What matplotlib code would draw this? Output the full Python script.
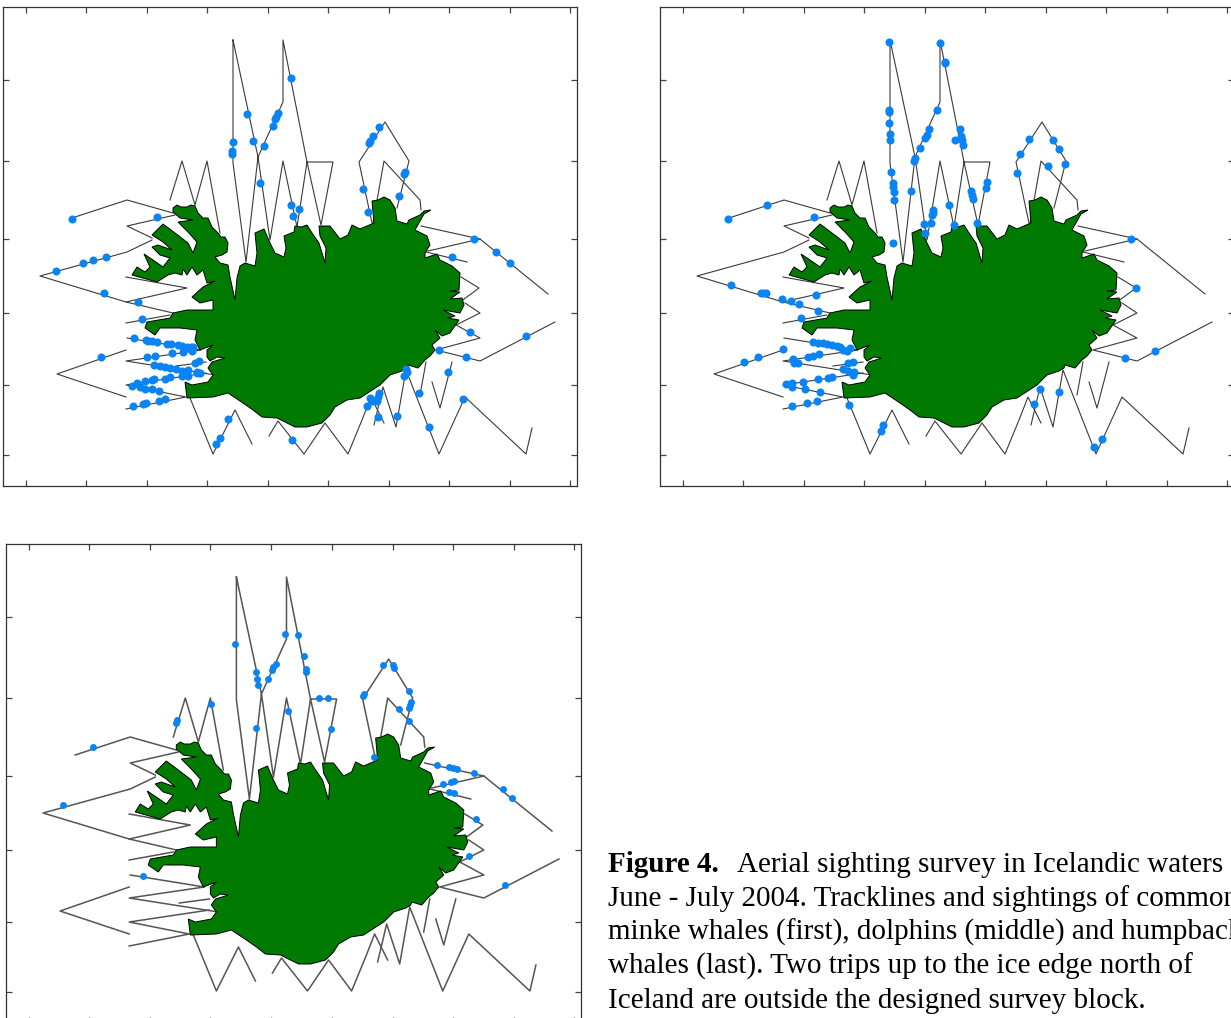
# Aerial survey maps: tracklines and sightings around Iceland
import matplotlib
matplotlib.use("Agg")
import matplotlib.pyplot as plt

# =========================================================
# DATA (map units, shared by all three panels)
# =========================================================
X_TICKS = [26, 86, 147, 207, 268, 328, 389, 449, 510, 570]
Y_TICKS = [80, 161, 239, 313, 385, 455]

ICELAND = [
    (173, 208), (177, 205), (181, 207), (187, 207), (191, 205), (195, 206), (198, 213), (203, 218),
    (208, 218), (212, 227), (218, 233), (221, 237), (225, 237), (228, 243), (227, 252), (222, 255),
    (215, 257), (220, 263), (228, 265), (230, 277), (235, 300), (237, 278), (240, 266), (245, 263),
    (255, 266), (257, 253), (255, 233), (264, 229), (270, 243), (275, 253), (284, 257),
    (286, 248), (284, 236), (294, 232), (295, 226), (301, 227), (307, 225), (312, 233), (319, 243),
    (325, 263), (326, 248), (320, 236), (319, 226), (330, 226), (340, 239), (348, 235),
    (352, 225), (360, 229), (374, 223), (372, 201), (378, 200), (384, 197), (390, 200), (395, 208),
    (397, 221), (407, 224), (409, 220), (420, 215), (424, 211), (431, 210), (424, 214),
    (415, 230), (427, 236), (430, 245), (425, 253), (425, 258), (437, 254), (440, 260),
    (452, 266), (460, 273), (459, 290), (450, 291), (460, 292), (450, 299), (462, 298),
    (464, 305), (460, 313), (443, 310), (455, 316), (448, 318), (459, 320), (450, 333),
    (442, 336), (435, 330), (440, 338), (432, 345), (435, 350), (430, 356), (425, 360),
    (418, 368), (408, 365), (407, 368), (402, 371), (390, 375), (380, 385), (360, 398),
    (347, 400), (335, 407), (330, 415), (322, 423), (307, 427), (295, 427), (277, 418),
    (262, 417), (253, 410), (243, 403), (228, 393), (213, 397), (187, 398), (185, 382),
    (192, 385), (208, 382), (213, 375), (208, 368), (212, 362), (225, 358), (217, 357),
    (210, 361), (207, 357), (207, 350), (213, 345), (200, 350), (195, 340), (197, 330),
    (180, 328), (160, 328), (155, 335), (145, 328), (147, 322), (170, 318), (173, 313),
    (187, 310), (213, 310), (213, 300), (200, 303), (192, 297), (203, 287), (215, 281),
    (207, 283), (203, 270), (197, 275), (192, 267), (187, 275), (183, 269), (182, 275),
    (175, 273), (168, 275), (157, 282),
    (132, 275), (137, 267), (145, 272), (150, 267), (144, 254), (153, 260), (163, 267),
    (170, 258), (160, 255), (152, 247), (158, 245), (172, 250), (163, 242), (152, 235),
    (163, 224), (175, 233), (188, 243), (193, 253), (197, 242), (188, 232), (178, 222),
    (193, 220), (180, 218), (173, 212),
]

TRACKS = [
    [(72, 218), (127, 200), (173, 213)],
    [(175, 215), (127, 226), (152, 238)],
    [(152, 240), (127, 252), (40, 276), (126, 302), (173, 313)],
    [(126, 277), (187, 288), (126, 302)],
    [(126, 323), (170, 315)],
    [(127, 338), (201, 350), (126, 361), (215, 375)],
    [(176, 366), (206, 362)],
    [(206, 373), (126, 385), (186, 397), (126, 409)],
    [(126, 350), (57, 374), (126, 397)],
    [(190, 398), (213, 454), (235, 410), (252, 444)],
    [(269, 436), (278, 421), (304, 454), (325, 423), (348, 454), (362, 420), (371, 397), (384, 423)],
    [(374, 425), (383, 387), (396, 427), (406, 370), (439, 454), (465, 397), (526, 454), (532, 428)],
    [(420, 395), (426, 362)],
    [(432, 382), (440, 408), (452, 362)],
    [(421, 226), (480, 239), (548, 294)],
    [(428, 251), (480, 239)],
    [(426, 252), (467, 262)],
    [(461, 277), (479, 288), (460, 302)],
    [(465, 303), (480, 313), (456, 325), (480, 338), (436, 350), (480, 361), (555, 322)],
    [(372, 223), (359, 162), (385, 122), (409, 161), (397, 208)],
    [(373, 223), (384, 161), (420, 200), (421, 210)],
    [(233, 40), (233, 163), (246, 262), (258, 157), (283, 102), (283, 40), (307, 162), (321, 225),
     (333, 162), (307, 162), (297, 227), (283, 161), (270, 240), (258, 157), (233, 40)],
    [(170, 200), (182, 161), (195, 205), (207, 161), (220, 233)],
]

MINKE = [
    (72, 219), (157, 217), (233, 142), (232, 151), (232, 154), (247, 114), (253, 141), (264, 146),
    (273, 126), (275, 119), (276, 117), (278, 113), (260, 183), (291, 205), (299, 209), (293, 216),
    (291, 78), (379, 127), (373, 136), (370, 141), (369, 143), (363, 189), (368, 212), (405, 172),
    (404, 174), (399, 196), (474, 239), (496, 252), (56, 271), (83, 263), (93, 260), (106, 257),
    (104, 293), (138, 302), (142, 319), (134, 338), (101, 357),
    (146, 340), (148, 341), (152, 341), (157, 342), (167, 344), (171, 344), (178, 345), (182, 346),
    (187, 347), (191, 347), (193, 347), (147, 357), (155, 356), (172, 353), (183, 352), (192, 351),
    (154, 365), (160, 366), (165, 367), (170, 368), (176, 369), (182, 371), (188, 370), (197, 372),
    (200, 373), (195, 363), (199, 361), (183, 374), (188, 376), (197, 373),
    (132, 386), (137, 383), (145, 381), (152, 380), (154, 379), (165, 379), (170, 377), (182, 376),
    (140, 387), (145, 389), (152, 389), (159, 391), (133, 406), (143, 404), (146, 403), (159, 401),
    (165, 399), (228, 419), (220, 438), (216, 444), (292, 440),
    (452, 257), (510, 263), (470, 332), (439, 350), (466, 357), (526, 336), (448, 372), (419, 393),
    (429, 427), (463, 399), (406, 369), (407, 372), (404, 376), (370, 398), (372, 401), (367, 406),
    (377, 401), (378, 397), (379, 393), (378, 417), (397, 416),
]

DOLPHINS = [
    (71, 219), (110, 205), (157, 217), (236, 243), (232, 42), (232, 110), (232, 112), (232, 123),
    (233, 134), (233, 140), (234, 172), (236, 183), (236, 187), (237, 192), (237, 200), (283, 43),
    (288, 62), (288, 63), (280, 110), (272, 129), (270, 135), (268, 138), (263, 148), (258, 158),
    (257, 161), (254, 191), (276, 210), (276, 213), (275, 215), (274, 223), (267, 224), (268, 233),
    (292, 205), (297, 225), (303, 129), (304, 136), (305, 140), (306, 145), (298, 140), (314, 191),
    (315, 195), (316, 199), (320, 223), (330, 182), (329, 188),
    (74, 285), (104, 293), (106, 293), (109, 293), (125, 299), (134, 301), (142, 304), (159, 295),
    (161, 311), (144, 318), (156, 342), (161, 343), (166, 343), (170, 344), (175, 345), (180, 346),
    (183, 347), (193, 348), (186, 350), (190, 351), (126, 349), (101, 357), (87, 362), (136, 359),
    (137, 363), (141, 363), (151, 357), (156, 356), (162, 354), (191, 363), (196, 362), (186, 369),
    (191, 371), (197, 372), (196, 375), (175, 377), (171, 378), (161, 379), (146, 382), (135, 383),
    (129, 384), (135, 387), (148, 389), (163, 392), (160, 401), (150, 403), (135, 406), (192, 405),
    (226, 425), (224, 431),
    (372, 139), (363, 154), (360, 173), (396, 140), (402, 149), (408, 164), (391, 166), (474, 239),
    (479, 288), (498, 351), (468, 358), (383, 389), (377, 404), (402, 392), (437, 447), (445, 439),
]

HUMPBACK = [
    (232, 107), (253, 135), (254, 142), (255, 148), (265, 142), (282, 97), (294, 98), (273, 127),
    (270, 130), (269, 133), (253, 191), (285, 174), (208, 167), (174, 183), (173, 186), (90, 210),
    (60, 268), (140, 339), (300, 119), (302, 132), (302, 135), (315, 161), (324, 161), (327, 192),
    (370, 220), (360, 157), (359, 159), (379, 128), (389, 128), (390, 131), (405, 154), (407, 165),
    (406, 168), (405, 171), (395, 172), (405, 184), (433, 228), (445, 230), (449, 231), (453, 232),
    (470, 236), (439, 247), (447, 245), (450, 244), (445, 255), (450, 256), (499, 252), (508, 261),
    (472, 282), (465, 319), (501, 348),
]

CAPTION_LINES = [
    "June - July 2004. Tracklines and sightings of common",
    "minke whales (first), dolphins (middle) and humpback",
    "whales (last). Two trips up to the ice edge north of",
    "Iceland are outside the designed survey block.",
]

# =========================================================
# PLOT
# =========================================================
FIG_W, FIG_H = 1231, 1018
fig = plt.figure(figsize=(FIG_W / 100, FIG_H / 100), dpi=100)


def draw_panel(left, top, width, height, sightings, track_color, track_lw, marker_size):
    ax = fig.add_axes([left / FIG_W, 1 - (top + height) / FIG_H, width / FIG_W, height / FIG_H])
    ax.set_xlim(3, 577)
    ax.set_ylim(486, 7)
    for track in TRACKS:
        ax.plot([p[0] for p in track], [p[1] for p in track],
                color=track_color, lw=track_lw, zorder=2)
    ax.fill([p[0] for p in ICELAND], [p[1] for p in ICELAND],
            facecolor="#007a00", edgecolor="black", lw=0.7, zorder=3)
    ax.plot([p[0] for p in sightings], [p[1] for p in sightings], "o",
            color="#0a84f5", ms=marker_size, mew=0, zorder=4)
    ax.set_xticks(X_TICKS)
    ax.set_yticks(Y_TICKS)
    ax.tick_params(direction="in", length=4.5, width=0.9, color="#444444",
                   top=True, right=True, labelbottom=False, labelleft=False)
    for spine in ax.spines.values():
        spine.set_color("#333333")
        spine.set_linewidth(0.9)


draw_panel(3, 7, 574, 479, MINKE, "#3a3a3a", 0.8, 5.8)
draw_panel(660, 7, 574, 479, DOLPHINS, "#3a3a3a", 0.8, 5.8)
draw_panel(6, 544, 575, 479, HUMPBACK, "#555555", 1.1, 5.0)

serif = ["Liberation Serif", "DejaVu Serif"]
fig.text(608 / FIG_W, 1 - 872 / FIG_H, "Figure 4.", family=serif, weight="bold",
         fontsize=21, color="black", va="baseline")
fig.text(737 / FIG_W, 1 - 872 / FIG_H, "Aerial sighting survey in Icelandic waters",
         family=serif, fontsize=21, color="black", va="baseline")
for i, line in enumerate(CAPTION_LINES):
    fig.text(608 / FIG_W, 1 - (906 + 34 * i) / FIG_H, line, family=serif,
             fontsize=21, color="black", va="baseline")

fig.savefig("out.png", dpi=100)
